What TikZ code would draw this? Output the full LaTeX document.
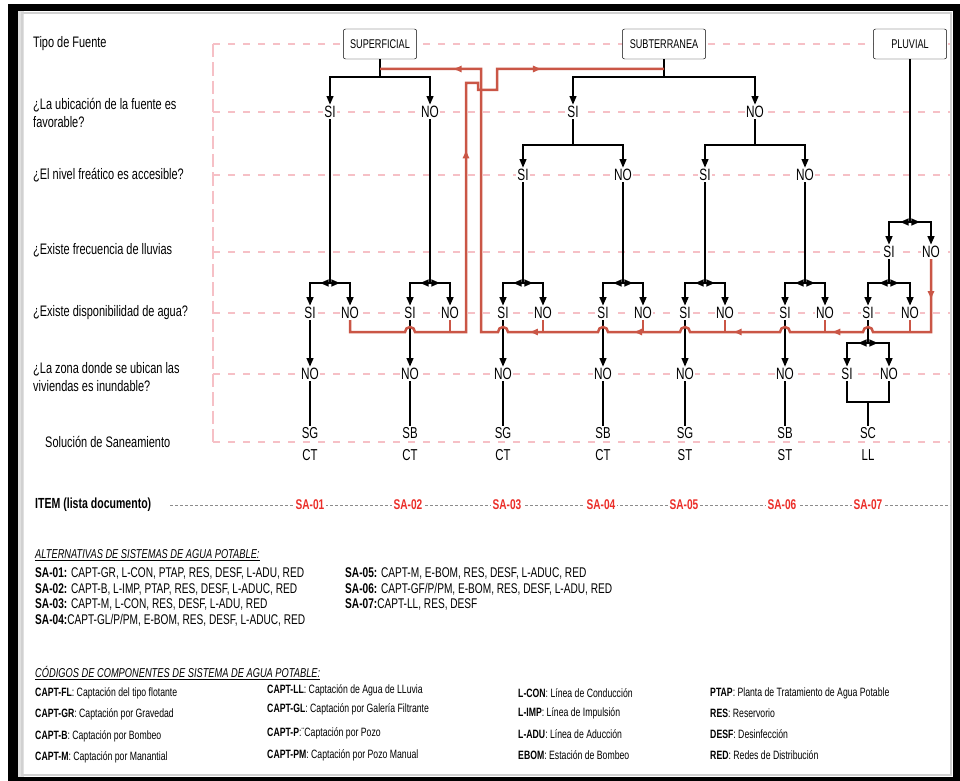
\documentclass[tikz,border=0pt]{standalone}
\usepackage{fontspec}
\setmainfont{Liberation Sans}[FakeStretch=0.72]
\usetikzlibrary{arrows.meta,calc,decorations.markings}
\definecolor{guidepink}{RGB}{246,192,198}
\definecolor{flowred}{RGB}{202,86,70}
\definecolor{itemred}{RGB}{235,45,40}
\tikzset{
  srcbox/.style={draw, rounded corners=2pt, fill=white, align=center, minimum height=9mm, inner sep=2pt, font=\fontsize{10.8}{12}\selectfont, line width=0.4pt},
  answer/.style={fill=white, inner sep=1pt, font=\fontsize{14}{16}\selectfont},
  rowlabel/.style={anchor=west, align=left, inner sep=0pt, font=\fontsize{13}{16}\selectfont},
  solution/.style={align=center, inner sep=1pt, font=\fontsize{13.5}{18.5}\selectfont},
  itemlabel/.style={fill=white, inner sep=1pt, text=itemred, font=\bfseries\fontsize{12}{14}\selectfont},
  listline/.style={anchor=west, inner sep=0pt, font=\fontsize{12}{14}\selectfont},
  codeline/.style={anchor=west, inner sep=0pt, font=\fontsize{10.3}{12}\selectfont},
  listtitle/.style={anchor=west, inner sep=0pt, font=\itshape\fontsize{11}{13}\selectfont},
  guide/.style={draw=guidepink, line width=0.6mm, dash pattern=on 2.1mm off 2.4mm},
  itemline/.style={draw=black!45, line width=0.3pt, dash pattern=on 1mm off 0.5mm},
  blk/.style={draw=black, line width=0.55mm},
  stemarrow/.style={blk, -{Triangle[length=2.6mm,width=2mm]}},
  fork/.style={blk, line width=0.75mm, -{Triangle[length=2.6mm,width=2mm]}, postaction={decorate},
    decoration={markings, mark=at position 3mm with {\arrow{Triangle[length=2.6mm,width=2mm]}}}},
  flow/.style={draw=flowred, line width=0.75mm},
  flowtip/.tip={Latex[length=2.8mm,width=2.2mm]}
}

\begin{document}
\begin{tikzpicture}[x=0.3mm, y=-0.3mm]
\useasboundingbox (0,0) rectangle (960,781);
\fill[black] (8,4) rectangle (960,781);
\fill[white] (18,11) rectangle (953,777);
\fill[black!12] (18,11) rectangle (24,777);
\draw[black!18, line width=0.4mm] (22,13) rectangle (951,775);

\draw[guide] (213,44) -- (950,44);
\draw[guide] (213,112) -- (950,112);
\draw[guide] (213,175) -- (950,175);
\draw[guide] (213,252) -- (950,252);
\draw[guide] (213,313) -- (950,313);
\draw[guide] (213,374) -- (950,374);
\draw[guide] (213,442) -- (950,442);
\draw[guide, line width=0.35mm, dash pattern=on 4mm off 1.5mm] (213,44) -- (213,442);
\draw[itemline] (170,505) -- (950,505);

\node[rowlabel] (qfuente) at (33,44) {Tipo de Fuente};
\node[rowlabel] (qubic) at (33,113) {¿La ubicación de la fuente es\\favorable?};
\node[rowlabel] (qnivel) at (33,175) {¿El nivel freático es accesible?};
\node[rowlabel] (qlluvia) at (33,250) {¿Existe frecuencia de lluvias};
\node[rowlabel] (qdisp) at (33,313) {¿Existe disponibilidad de agua?};
\node[rowlabel] (qzona) at (33,377) {¿La zona donde se ubican las\\viviendas es inundable?};
\node[rowlabel] (qsol) at (45,442) {Solución de Saneamiento};
\node[rowlabel, font=\bfseries\fontsize{12.5}{14}\selectfont] (qitem) at (35,505) {ITEM (lista documento)};

\node[srcbox, minimum width=22mm] (sup) at (380,44) {SUPERFICIAL};
\node[srcbox, minimum width=25mm] (sub) at (664,44) {SUBTERRANEA};
\node[srcbox, minimum width=22mm] (plu) at (910,44) {PLUVIAL};

\node[answer] (supsi) at (330,112) {SI};
\node[answer] (supno) at (430,112) {NO};
\node[answer] (subsi) at (573,112) {SI};
\node[answer] (subno) at (755,112) {NO};
\node[answer] (ssi) at (523,175) {SI};
\node[answer] (sno) at (623,175) {NO};
\node[answer] (nsi) at (705,175) {SI};
\node[answer] (nno) at (805,175) {NO};
\node[answer] (plsi) at (889,252) {SI};
\node[answer] (plno) at (931,252) {NO};
\node[answer] (a1si) at (310,313) {SI};
\node[answer] (a1no) at (350,313) {NO};
\node[answer] (a2si) at (410,313) {SI};
\node[answer] (a2no) at (450,313) {NO};
\node[answer] (a3si) at (503,313) {SI};
\node[answer] (a3no) at (543,313) {NO};
\node[answer] (a4si) at (603,313) {SI};
\node[answer] (a4no) at (643,313) {NO};
\node[answer] (a5si) at (685,313) {SI};
\node[answer] (a5no) at (725,313) {NO};
\node[answer] (a6si) at (785,313) {SI};
\node[answer] (a6no) at (825,313) {NO};
\node[answer] (a7si) at (868,313) {SI};
\node[answer] (a7no) at (910,313) {NO};
\node[answer] (z1) at (310,374) {NO};
\node[answer] (z2) at (410,374) {NO};
\node[answer] (z3) at (503,374) {NO};
\node[answer] (z4) at (603,374) {NO};
\node[answer] (z5) at (685,374) {NO};
\node[answer] (z6) at (785,374) {NO};
\node[answer] (z7si) at (847,374) {SI};
\node[answer] (z7no) at (889,374) {NO};

\node[solution] (s1) at (310,444) {SG\\CT};
\node[solution] (s2) at (410,444) {SB\\CT};
\node[solution] (s3) at (503,444) {SG\\CT};
\node[solution] (s4) at (603,444) {SB\\CT};
\node[solution] (s5) at (685,444) {SG\\ST};
\node[solution] (s6) at (785,444) {SB\\ST};
\node[solution] (s7) at (868,444) {SC\\LL};

\node[itemlabel] (it1) at (310,505) {SA-01};
\node[itemlabel] (it2) at (408,505) {SA-02};
\node[itemlabel] (it3) at (507,505) {SA-03};
\node[itemlabel] (it4) at (601,505) {SA-04};
\node[itemlabel] (it5) at (684,505) {SA-05};
\node[itemlabel] (it6) at (782,505) {SA-06};
\node[itemlabel] (it7) at (868,505) {SA-07};

\coordinate (jsup) at (380,77);
\coordinate (jsub) at (664,77);
\coordinate (jsubsi) at (573,145);
\coordinate (jsubno) at (755,145);
\coordinate (jplu) at (910,222);
\coordinate (f1) at (330,283);
\coordinate (f2) at (430,283);
\coordinate (f3) at (523,283);
\coordinate (f4) at (623,283);
\coordinate (f5) at (705,283);
\coordinate (f6) at (805,283);
\coordinate (f7) at (889,283);
\coordinate (f8) at (868,343);
\coordinate (m7) at (868,402);
\coordinate (ra) at (664,69);
\coordinate (rb) at (380,69);
\coordinate (ya) at (0,332);

\draw[blk] (sup) -- (jsup);
\draw[stemarrow] (jsup) -| (supsi);
\draw[stemarrow] (jsup) -| (supno);
\draw[blk] (sub) -- (jsub);
\draw[stemarrow] (jsub) -| (subsi);
\draw[stemarrow] (jsub) -| (subno);
\draw[blk] (subsi) -- (jsubsi);
\draw[stemarrow] (jsubsi) -| (ssi);
\draw[stemarrow] (jsubsi) -| (sno);
\draw[blk] (subno) -- (jsubno);
\draw[stemarrow] (jsubno) -| (nsi);
\draw[stemarrow] (jsubno) -| (nno);
\draw[blk] (plu) -- (jplu);
\draw[fork] (jplu) -| (plsi);
\draw[fork] (jplu) -| (plno);

\draw[blk] (supsi) -- (f1);
\draw[fork] (f1) -| (a1si);
\draw[fork] (f1) -| (a1no);
\draw[blk] (supno) -- (f2);
\draw[fork] (f2) -| (a2si);
\draw[fork] (f2) -| (a2no);
\draw[blk] (ssi) -- (f3);
\draw[fork] (f3) -| (a3si);
\draw[fork] (f3) -| (a3no);
\draw[blk] (sno) -- (f4);
\draw[fork] (f4) -| (a4si);
\draw[fork] (f4) -| (a4no);
\draw[blk] (nsi) -- (f5);
\draw[fork] (f5) -| (a5si);
\draw[fork] (f5) -| (a5no);
\draw[blk] (nno) -- (f6);
\draw[fork] (f6) -| (a6si);
\draw[fork] (f6) -| (a6no);
\draw[blk] (plsi) -- (f7);
\draw[fork] (f7) -| (a7si);
\draw[fork] (f7) -| (a7no);
\draw[blk] (a7si) -- (f8);
\draw[fork] (f8) -| (z7si);
\draw[fork] (f8) -| (z7no);

\draw[stemarrow] (a1si) -- (z1);
\draw[stemarrow] (a2si) -- (z2);
\draw[stemarrow] (a3si) -- (z3);
\draw[stemarrow] (a4si) -- (z4);
\draw[stemarrow] (a5si) -- (z5);
\draw[stemarrow] (a6si) -- (z6);
\draw[blk] (z1) -- (s1);
\draw[blk] (z2) -- (s2);
\draw[blk] (z3) -- (s3);
\draw[blk] (z4) -- (s4);
\draw[blk] (z5) -- (s5);
\draw[blk] (z6) -- (s6);
\draw[blk, line width=0.75mm] (z7si) |- (m7) -| (z7no);
\draw[blk] (m7) -- (s7);

\draw[flow, postaction={decorate}, decoration={markings,
    mark=at position 0.52 with {\arrow{flowtip}},
    mark=at position 0.80 with {\arrow{flowtip}}}]
  (a1no) |- (405,332) arc[start angle=180, end angle=0, radius=1.5mm]
  -- (466,332) -- (466,83) -- (478,83) -- (478,90) -- (497,90) -- (497,69) -- (ra);
\draw[flow] (a2no) -- (a2no |- ya);
\draw[flow, postaction={decorate}, decoration={markings,
    mark=at position 0.045 with {\arrow{flowtip}},
    mark=at position 0.195 with {\arrow{flowtip}},
    mark=at position 0.309 with {\arrow{flowtip}},
    mark=at position 0.424 with {\arrow{flowtip}},
    mark=at position 0.544 with {\arrow{flowtip}},
    mark=at position 0.921 with {\arrow{flowtip}}}]
  (plno) -- (931,332) -- (873,332) arc[start angle=0, end angle=180, radius=1.5mm]
  -- (790,332) arc[start angle=0, end angle=180, radius=1.5mm]
  -- (690,332) arc[start angle=0, end angle=180, radius=1.5mm]
  -- (608,332) arc[start angle=0, end angle=180, radius=1.5mm]
  -- (508,332) arc[start angle=0, end angle=180, radius=1.5mm]
  -- (481,332) -- (481,69) -- (rb);
\draw[flow] (a3no) -- (a3no |- ya);
\draw[flow] (a4no) -- (a4no |- ya);
\draw[flow] (a5no) -- (a5no |- ya);
\draw[flow] (a6no) -- (a6no |- ya);
\draw[flow] (a7no) -- (a7no |- ya);

\node[listtitle] (alttitle) at (35,555) {\underline{ALTERNATIVAS DE SISTEMAS DE AGUA POTABLE:}};
\node[listline] (alt1) at (35,573) {\textbf{SA-01:} CAPT-GR, L-CON, PTAP, RES, DESF, L-ADU, RED};
\node[listline] (alt2) at (35,589) {\textbf{SA-02:} CAPT-B, L-IMP, PTAP, RES, DESF, L-ADUC, RED};
\node[listline] (alt3) at (35,604) {\textbf{SA-03:} CAPT-M, L-CON, RES, DESF, L-ADU, RED};
\node[listline] (alt4) at (35,620) {\textbf{SA-04:}CAPT-GL/P/PM, E-BOM, RES, DESF, L-ADUC, RED};
\node[listline] (alt5) at (345,573) {\textbf{SA-05:} CAPT-M, E-BOM, RES, DESF, L-ADUC, RED};
\node[listline] (alt6) at (345,589) {\textbf{SA-06:} CAPT-GF/P/PM, E-BOM, RES, DESF, L-ADU, RED};
\node[listline] (alt7) at (345,604) {\textbf{SA-07:}CAPT-LL, RES, DESF};

\node[listtitle] (codtitle) at (35,673) {\underline{CÓDIGOS DE COMPONENTES DE SISTEMA DE AGUA POTABLE:}};
\node[codeline] (capfl) at (35,693) {\textbf{CAPT-FL}: Captación del tipo flotante};
\node[codeline] (capgr) at (35,714) {\textbf{CAPT-GR}: Captación por Gravedad};
\node[codeline] (capb) at (35,736) {\textbf{CAPT-B}: Captación por Bombeo};
\node[codeline] (capm) at (35,757) {\textbf{CAPT-M}: Captación por Manantial};
\node[codeline] (capll) at (267,690) {\textbf{CAPT-LL}: Captación de Agua de LLuvia};
\node[codeline] (capgl) at (267,709) {\textbf{CAPT-GL}: Captación por Galería Filtrante};
\node[codeline] (capp) at (267,733) {\textbf{CAPT-P}:¨Captación por Pozo};
\node[codeline] (cappm) at (267,755) {\textbf{CAPT-PM}: Captación por Pozo Manual};
\node[codeline] (lcon) at (518,693) {\textbf{L-CON}: Línea de Conducción};
\node[codeline] (limp) at (518,713) {\textbf{L-IMP}: Línea de Impulsión};
\node[codeline] (ladu) at (518,734) {\textbf{L-ADU}: Línea de Aducción};
\node[codeline] (ebom) at (518,755) {\textbf{EBOM}: Estación de Bombeo};
\node[codeline] (ptap) at (710,693) {\textbf{PTAP}: Planta de Tratamiento de Agua Potable};
\node[codeline] (res) at (710,713) {\textbf{RES}: Reservorio};
\node[codeline] (desf) at (710,734) {\textbf{DESF}: Desinfección};
\node[codeline] (red) at (710,755) {\textbf{RED}: Redes de Distribución};
\end{tikzpicture}
\end{document}
